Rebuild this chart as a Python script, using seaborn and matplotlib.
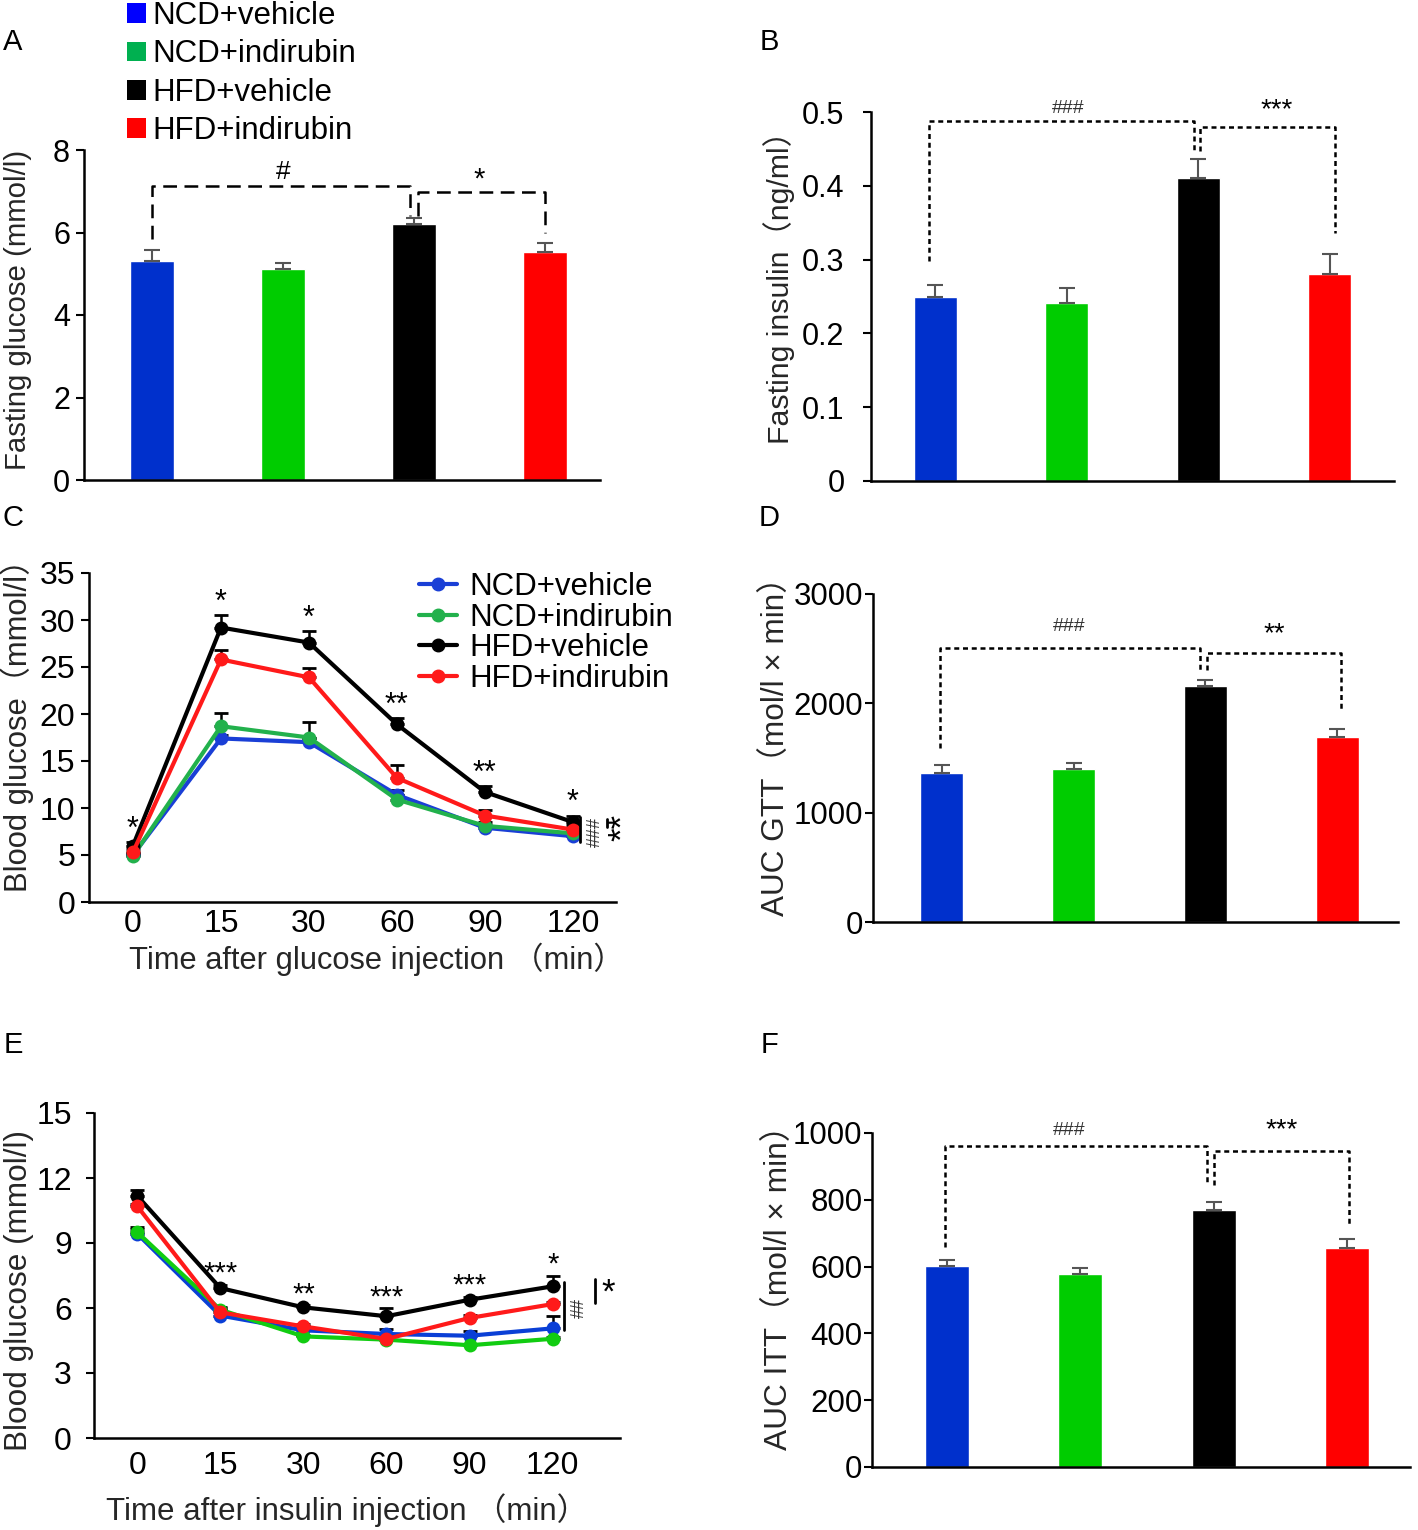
import numpy as np
import pandas as pd
import matplotlib
matplotlib.use("Agg")
import matplotlib.pyplot as plt
import seaborn as sns
from matplotlib.patches import Patch
from matplotlib.lines import Line2D

groups = ["NCD+vehicle", "NCD+indirubin", "HFD+vehicle", "HFD+indirubin"]
bar_colors = ["#0030cc", "#00cc00", "#000000", "#ff0000"]
legend_colors = ["#0000ff", "#00b050", "#000000", "#ff0000"]
gtt_line_colors = ["#1a3fd6", "#22b14c", "#000000", "#ff1a1a"]
itt_line_colors = ["#0a3fd6", "#11cc11", "#000000", "#ff1a1a"]

# A: fasting glucose
glucose_mean = [5.32, 5.12, 6.20, 5.52]
glucose_sem = [0.25, 0.15, 0.15, 0.23]
# B: fasting insulin
insulin_mean = [0.249, 0.241, 0.410, 0.281]
insulin_sem = [0.016, 0.021, 0.026, 0.027]
insulin_ticks = ["0", "0.1", "0.2", "0.3", "0.4", "0.5"]
# D: AUC GTT
gtt_auc_mean = [1365, 1395, 2157, 1694]
gtt_auc_sem = [70, 58, 55, 67]
# F: AUC ITT
itt_auc_mean = [603, 578, 770, 655]
itt_auc_sem = [17, 17, 22, 28]

# C: glucose tolerance test
time_labels = ["0", "15", "30", "60", "90", "120"]
gtt_mean = {
    "NCD+vehicle": [5.0, 17.4, 17.0, 11.4, 7.9, 7.0],
    "NCD+indirubin": [4.9, 18.7, 17.5, 10.9, 8.1, 7.3],
    "HFD+vehicle": [6.0, 29.2, 27.6, 18.9, 11.7, 8.5],
    "HFD+indirubin": [5.3, 25.8, 23.9, 13.2, 9.2, 7.7],
}
gtt_sem = {
    "NCD+vehicle": [0.2, 0.4, 0.4, 0.5, 0.3, 0.3],
    "NCD+indirubin": [0.2, 1.4, 1.6, 0.5, 0.4, 0.3],
    "HFD+vehicle": [0.4, 1.3, 1.2, 0.7, 0.6, 0.7],
    "HFD+indirubin": [0.3, 1.0, 1.0, 1.4, 0.6, 0.5],
}
gtt_stars = ["*", "*", "*", "**", "**", "*"]

# E: insulin tolerance test
itt_mean = {
    "NCD+vehicle": [9.43, 5.65, 4.97, 4.80, 4.72, 5.06],
    "NCD+indirubin": [9.50, 5.92, 4.69, 4.54, 4.28, 4.58],
    "HFD+vehicle": [11.18, 6.92, 6.03, 5.62, 6.38, 7.00],
    "HFD+indirubin": [10.70, 5.80, 5.15, 4.57, 5.54, 6.18],
}
itt_sem = {
    "NCD+vehicle": [0.30, 0.40, 0.10, 0.23, 0.20, 0.55],
    "NCD+indirubin": [0.15, 0.10, 0.08, 0.08, 0.08, 0.08],
    "HFD+vehicle": [0.25, 0.15, 0.10, 0.38, 0.15, 0.50],
    "HFD+indirubin": [0.10, 0.10, 0.10, 0.10, 0.15, 0.10],
}
itt_stars = ["", "***", "**", "***", "***", "*"]

W, H = 1418, 1530
sns.set_style("white")
plt.rcParams["font.family"] = ["Liberation Sans", "DejaVu Sans", "Noto Sans CJK SC"]
plt.rcParams["axes.linewidth"] = 1.8
plt.rcParams["axes.edgecolor"] = "black"
plt.rcParams["xtick.color"] = "black"
plt.rcParams["ytick.color"] = "black"
plt.rcParams["text.color"] = "black"

fig = plt.figure(figsize=(W / 100, H / 100), dpi=100)


def px_axes(x0, y0, x1, y1):
    return fig.add_axes([x0 / W, 1 - y1 / H, (x1 - x0) / W, (y1 - y0) / H])


def style_axes(ax, ylim, yticks, tick_fs=22, pad=3, labels=None):
    sns.despine(ax=ax)
    ax.set_ylim(*ylim)
    ax.set_yticks(yticks)
    ax.set_yticklabels(labels if labels else [str(t) for t in yticks], fontsize=tick_fs)
    ax.tick_params(axis="y", direction="out", length=6, width=1.5, pad=pad, left=True)
    ax.tick_params(axis="x", length=0)


def bar_panel(ax, means, sems, xlim, ylim, yticks, tick_fs=22, pad=3, labels=None):
    df = pd.DataFrame({"group": groups, "value": means})
    sns.barplot(data=df, x="group", y="value", hue="group", order=groups, hue_order=groups,
                palette=bar_colors, width=0.33, legend=False, ax=ax, saturation=1)
    ax.errorbar(np.arange(4), means, yerr=[np.zeros(4), sems], fmt="none",
                ecolor="#555555", elinewidth=1.5, capsize=6, capthick=1.5, zorder=3)
    ax.set_xlim(*xlim)
    style_axes(ax, ylim, yticks, tick_fs, pad, labels)
    ax.set_xticks([])
    ax.set_xlabel("")


def bracket(ax, x0, x1, ytop, yl, yr, ls):
    ax.plot([x0, x0, x1, x1], [yl, ytop, ytop, yr], color="black", lw=1.8, ls=ls,
            clip_on=False, zorder=4)


def line_panel(ax, means, sems, colors, xlim, ylim, yticks, pad, xpad):
    rows = []
    for g in groups:
        for i, v in enumerate(means[g]):
            rows.append({"group": g, "pos": i, "value": v})
    df = pd.DataFrame(rows)
    for g, c in zip(groups, colors):
        ax.errorbar(np.arange(6), means[g], yerr=[np.zeros(6), sems[g]], fmt="none",
                    ecolor="black", elinewidth=1.8, capsize=5, capthick=2, zorder=1.5)
    sns.lineplot(data=df, x="pos", y="value", hue="group", hue_order=groups,
                 palette=colors, marker="o", markersize=10, markeredgewidth=0,
                 linewidth=3, legend=False, ax=ax, zorder=2)
    ax.set_xlim(*xlim)
    style_axes(ax, ylim, yticks, tick_fs=23, pad=pad)
    ax.set_xticks(range(6))
    ax.set_xticklabels(time_labels, fontsize=23)
    ax.tick_params(axis="x", pad=xpad)


# ---- A ----
axA = px_axes(84, 150, 600, 480)
bar_panel(axA, glucose_mean, glucose_sem, (-0.52, 3.42), (0, 8), [0, 2, 4, 6, 8], pad=4)
bracket(axA, 0, 1.97, 7.13, 5.85, 6.4, (0, (5.5, 3)))
bracket(axA, 2.03, 3.0, 6.99, 6.4, 5.98, (0, (5.5, 3)))
axA.text(1.0, 7.47, "#", ha="center", va="center", fontsize=19)
axA.text(2.5, 7.28, "*", ha="center", va="center", fontsize=21)
axA.set_ylabel("Fasting glucose (mmol/l)", fontsize=21.2)
axA.yaxis.set_label_coords(-0.10, 0.515)
handles = [Patch(facecolor=c, edgecolor="none") for c in legend_colors]
axA.legend(handles, groups, loc="upper left", bbox_to_anchor=(127 / W, 1 - 1 / H),
           bbox_transform=fig.transFigure, frameon=False, fontsize=22.5,
           handlelength=0.6, handleheight=0.6, handletextpad=0.2,
           labelspacing=0.27, borderpad=0, borderaxespad=0)

# ---- B ----
axB = px_axes(871, 112, 1394, 481)
bar_panel(axB, insulin_mean, insulin_sem, (-0.49, 3.49), (0, 0.5),
          [0, 0.1, 0.2, 0.3, 0.4, 0.5], pad=13, labels=insulin_ticks)
bracket(axB, -0.05, 1.97, 0.488, 0.298, 0.447, (0, (2, 1.5)))
bracket(axB, 2.01, 3.04, 0.479, 0.447, 0.336, (0, (2, 1.5)))
axB.text(1.01, 0.505, "###", ha="center", va="center", fontsize=14, color="#333333")
axB.text(2.6, 0.503, "***", ha="center", va="center", fontsize=20)
axB.set_ylabel("Fasting insulin（ng/ml）", fontsize=21.8)
axB.yaxis.set_label_coords(-0.145, 0.545)

# ---- C ----
axC = px_axes(89, 573, 616, 902)
line_panel(axC, gtt_mean, gtt_sem, gtt_line_colors, (-0.5, 5.49), (0, 35), range(0, 36, 5),
           pad=4, xpad=5)
for i, s in enumerate(gtt_stars):
    top = gtt_mean["HFD+vehicle"][i] + gtt_sem["HFD+vehicle"][i]
    axC.text(i, top + 1.3, s, ha="center", va="center", fontsize=22)
axC.plot([5.08, 5.08], [6.4, 9.04], color="black", lw=2, clip_on=False)
axC.text(5.26, 7.45, "###", rotation=90, ha="center", va="center", fontsize=13, color="#333333")
axC.plot([5.39, 5.39], [8.0, 8.8], color="black", lw=2, clip_on=False)
axC.text(5.56, 7.9, "**", rotation=90, ha="center", va="center", fontsize=25)
leg_handles = [Line2D([0], [0], color=c, lw=3, marker="o", markersize=9) for c in gtt_line_colors]
axC.legend(leg_handles, groups, loc="upper left", bbox_to_anchor=(419 / W, 1 - 572 / H),
           bbox_transform=fig.transFigure, frameon=False, fontsize=22.5,
           handlelength=1.2, handletextpad=0.42, labelspacing=0.02, borderpad=0, borderaxespad=0)
axC.set_ylabel("Blood glucose（mmol/l）", fontsize=22.3)
axC.yaxis.set_label_coords(-0.105, 0.56)
axC.set_xlabel("Time after glucose injection （min）", fontsize=22.2)
axC.xaxis.set_label_coords(0.545, -0.125)

# ---- D ----
axD = px_axes(873, 594, 1398, 922)
bar_panel(axD, gtt_auc_mean, gtt_auc_sem, (-0.52, 3.46), (0, 3000), [0, 1000, 2000, 3000],
          tick_fs=22.5, pad=1)
bracket(axD, -0.01, 1.96, 2507, 1593, 2309, (0, (2, 1.5)))
bracket(axD, 2.01, 3.03, 2461, 2309, 1928, (0, (2, 1.5)))
axD.text(0.97, 2705, "###", ha="center", va="center", fontsize=14, color="#333333")
axD.text(2.52, 2630, "**", ha="center", va="center", fontsize=20)
axD.set_ylabel("AUC GTT（mol/l × min）", fontsize=22.7)
axD.yaxis.set_label_coords(-0.155, 0.558)

# ---- E ----
axE = px_axes(94, 1113, 620, 1438)
line_panel(axE, itt_mean, itt_sem, itt_line_colors, (-0.52, 5.81), (0, 15), range(0, 16, 3),
           pad=10, xpad=9)
for i, s in enumerate(itt_stars):
    if s:
        top = itt_mean["HFD+vehicle"][i] + itt_sem["HFD+vehicle"][i]
        axE.text(i, top + 0.5, s, ha="center", va="center", fontsize=21)
axE.plot([5.14, 5.14], [4.98, 7.2], color="black", lw=2, clip_on=False)
axE.text(5.32, 6.0, "##", rotation=90, ha="center", va="center", fontsize=13, color="#333333")
axE.plot([5.51, 5.51], [6.23, 7.34], color="black", lw=2, clip_on=False)
axE.text(5.67, 6.7, "*", ha="center", va="center", fontsize=25)
axE.set_ylabel("Blood glucose (mmol/l)", fontsize=22.7)
axE.yaxis.set_label_coords(-0.115, 0.455)
axE.set_xlabel("Time after insulin injection （min）", fontsize=22.5)
axE.xaxis.set_label_coords(0.481, -0.17)

# ---- F ----
axF = px_axes(872, 1133, 1410, 1467)
bar_panel(axF, itt_auc_mean, itt_auc_sem, (-0.56, 3.47), (0, 1000), range(0, 1001, 200),
          tick_fs=22.5, pad=1)
bracket(axF, -0.01, 1.95, 962, 660, 845, (0, (2, 1.5)))
bracket(axF, 2.0, 3.01, 945, 845, 725, (0, (2, 1.5)))
axF.text(0.92, 1008, "###", ha="center", va="center", fontsize=14, color="#333333")
axF.text(2.51, 1007, "***", ha="center", va="center", fontsize=20)
axF.set_ylabel("AUC ITT（mol/l × min）", fontsize=22.8)
axF.yaxis.set_label_coords(-0.145, 0.56)

for lab, x, y in [("A", 13, 42), ("B", 769, 42), ("C", 13, 518),
                  ("D", 769, 518), ("E", 13, 1045), ("F", 769, 1045)]:
    fig.text(x / W, 1 - y / H, lab, fontsize=21, ha="center", va="center")

fig.savefig("out.png", dpi=100)
